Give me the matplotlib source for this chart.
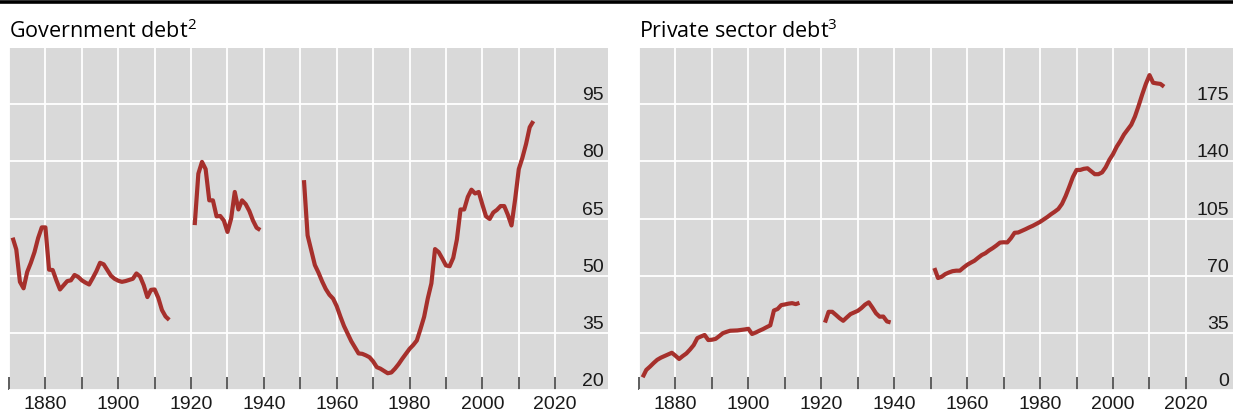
import numpy as np
import matplotlib
matplotlib.use("Agg")
import matplotlib.pyplot as plt
from matplotlib.lines import Line2D

plt.rcParams['font.family'] = ['Liberation Sans', 'DejaVu Sans']

# Government debt (% of GDP), annual, with wartime gaps
gov_years_a = list(range(1871, 1915))
gov_vals_a = [60.0, 56.9, 48.4, 46.7, 51.0, 53.4, 56.2, 59.9, 62.7, 62.7,
              51.6, 51.5, 48.8, 46.4, 47.5, 48.6, 48.8, 50.2, 49.7, 48.8,
              48.2, 47.7, 49.4, 51.2, 53.4, 53.0, 51.5, 50.0, 49.2, 48.7,
              48.4, 48.6, 48.9, 49.2, 50.6, 49.8, 47.5, 44.4, 46.3, 46.4,
              44.2, 41.0, 39.3, 38.4]
gov_years_b = list(range(1921, 1940))
gov_vals_b = [63.3, 76.8, 79.9, 78.0, 69.8, 69.8, 65.6, 65.7, 64.5, 61.5,
              65.0, 72.0, 67.4, 69.8, 68.8, 67.0, 64.5, 62.6, 62.0]
gov_years_c = list(range(1951, 2015))
gov_vals_c = [75.1, 60.6, 56.7, 52.8, 50.8, 48.5, 46.5, 45.0, 44.0, 42.0,
              39.3, 36.8, 34.8, 32.8, 31.2, 29.6, 29.5, 29.1, 28.6, 27.5,
              26.0, 25.6, 25.0, 24.4, 24.6, 25.6, 26.8, 28.2, 29.5, 30.8,
              31.8, 33.0, 36.0, 39.2, 44.0, 48.0, 57.0, 56.2, 54.5, 52.7,
              52.5, 54.7, 59.5, 67.4, 67.4, 70.7, 72.6, 71.6, 72.0, 68.7,
              65.6, 64.9, 66.6, 67.3, 68.3, 68.3, 66.0, 63.2, 70.1, 78.0,
              81.0, 84.6, 89.0, 90.6]

# Private sector debt (% of GDP)
prv_years_a = list(range(1871, 1915))
prv_vals_a = [7.8, 12.3, 14.3, 16.5, 18.5, 19.8, 20.8, 21.8, 22.8, 21.0,
              19.0, 20.8, 22.4, 24.8, 27.5, 31.8, 32.8, 33.7, 30.6, 30.8,
              31.3, 33.0, 34.8, 35.6, 36.3, 36.4, 36.5, 36.8, 37.1, 37.5,
              34.3, 35.2, 36.3, 37.3, 38.5, 39.6, 48.7, 49.6, 52.0, 52.4,
              52.9, 53.2, 52.6, 53.4]
prv_years_b = list(range(1921, 1940))
prv_vals_b = [41.3, 47.9, 47.9, 46.0, 44.0, 42.4, 44.5, 46.5, 47.5, 48.5,
              50.2, 52.3, 53.7, 50.5, 47.0, 44.9, 45.0, 42.0, 41.4]
prv_years_c = list(range(1951, 2015))
prv_vals_c = [74.7, 68.6, 69.4, 71.0, 72.0, 72.8, 73.1, 73.1, 75.0, 76.7,
              78.0, 79.2, 81.0, 82.7, 83.8, 85.5, 86.9, 88.5, 90.3, 90.5,
              90.4, 93.0, 96.3, 96.5, 97.5, 98.5, 99.6, 100.6, 101.8, 103.0,
              104.5, 106.0, 107.7, 109.2, 110.9, 114.0, 118.8, 124.5, 130.5, 134.8,
              134.8, 135.5, 135.8, 134.0, 132.2, 132.2, 133.3, 136.5, 141.0, 144.5,
              149.0, 152.5, 156.5, 159.5, 162.5, 167.5, 174.0, 181.0, 187.5, 192.9,
              188.2, 187.8, 187.5, 185.8]

gov_yticks = [20, 35, 50, 65, 80, 95]
prv_yticks = [0, 35, 70, 105, 140, 175]
decades = list(range(1870, 2030, 10))

LINE = '#A6302C'
BG = '#D9D9D9'

W, H = 1233, 416
fig = plt.figure(figsize=(W / 100, H / 100), dpi=100)


def make_panel(rect, title, segments, yticks, ylim, xlim):
    ax = fig.add_axes(rect)
    ax.set_facecolor(BG)
    for s in ax.spines.values():
        s.set_visible(False)
    for xs, ys in segments:
        ax.plot(xs, ys, color=LINE, lw=3.0, solid_capstyle='butt',
                solid_joinstyle='round', zorder=3)
    ax.set_xlim(*xlim)
    ax.set_ylim(*ylim)
    ax.set_xticks(decades)
    ax.set_xticklabels([str(d) if (d - 1880) % 20 == 0 else '' for d in decades])
    ax.tick_params(axis='x', direction='in', length=9.5, width=1.1,
                   color='#333333', labelsize=14, pad=4, labelcolor='#1a1a1a')
    ax.set_yticks(yticks)
    ax.yaxis.tick_right()
    ax.tick_params(axis='y', length=0, pad=-3, labelsize=14,
                   labelcolor='#1a1a1a')
    for lab in ax.get_yticklabels():
        lab.set_ha('right')
        lab.set_va('bottom')
    ax.grid(True, color='white', lw=1.3, zorder=1)
    ax.set_axisbelow(True)
    # title placed above the axes, left aligned
    fig.text(rect[0], 1 - 38 / H, title, ha='left', va='baseline',
             fontsize=15.5, family=['Open Sans', 'DejaVu Sans'], color='black')
    return ax


make_panel([9 / W, 26 / H, 599 / W, 342 / H],
           r'Government debt$^{\mathregular{2}}$',
           [(gov_years_a, gov_vals_a), (gov_years_b, gov_vals_b),
            (gov_years_c, gov_vals_c)],
           gov_yticks, (20, 109.8), (1870.1, 2034.5))

make_panel([639 / W, 26 / H, 594 / W, 342 / H],
           r'Private sector debt$^{\mathregular{3}}$',
           [(prv_years_a, prv_vals_a), (prv_years_b, prv_vals_b),
            (prv_years_c, prv_vals_c)],
           prv_yticks, (0, 209.5), (1870.1, 2032.9))

# thick black rule along the top
fig.add_artist(Line2D([0, 1], [1 - 1.5 / H, 1 - 1.5 / H], color='black',
                      lw=2.6, transform=fig.transFigure))

fig.savefig('out.png', dpi=100)
